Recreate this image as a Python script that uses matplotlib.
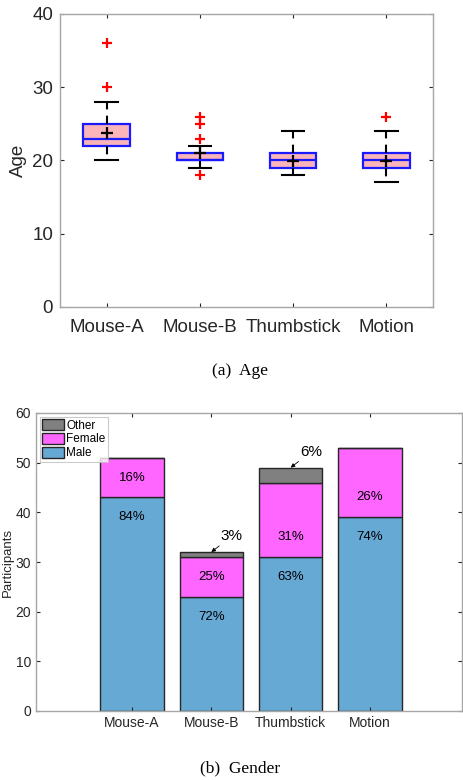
import matplotlib.pyplot as plt
import numpy as np

plt.rcParams['font.family'] = ['Liberation Sans', 'DejaVu Sans']

# Age distribution per input device (box plot summary)
devices = ['Mouse-A', 'Mouse-B', 'Thumbstick', 'Motion']
age_q1 = [22, 20, 19, 19]
age_med = [23, 20, 20, 20]
age_q3 = [25, 21, 21, 21]
age_whislo = [20, 19, 18, 17]
age_whishi = [28, 22, 24, 24]
age_mean = [23.7, 21.0, 19.9, 19.9]
age_fliers = [[30, 36], [18, 23, 25, 26], [], [26]]

# Gender counts per device
male = [43, 23, 31, 39]
female = [8, 8, 15, 14]
other = [0, 1, 3, 0]

TEXT = '#262626'
SPINE = '#a6a6a6'

fig = plt.figure(figsize=(4.63, 7.8), dpi=100)


def style_axes(ax):
    for s in ax.spines.values():
        s.set_color(SPINE)
        s.set_linewidth(1.0)
    ax.tick_params(direction='in', length=3, width=0.8, color=TEXT,
                   labelcolor=TEXT, top=True, right=True)


## Age box plot ##
ax1 = fig.add_axes([60 / 463, 1 - 307 / 780, 373 / 463, 293 / 780])
stats = []
for i in range(len(devices)):
    stats.append({'med': age_med[i], 'q1': age_q1[i], 'q3': age_q3[i],
                  'whislo': age_whislo[i], 'whishi': age_whishi[i],
                  'mean': age_mean[i], 'fliers': age_fliers[i]})
ax1.bxp(stats, positions=np.arange(1, 5), widths=0.5, patch_artist=True,
        showmeans=True,
        boxprops=dict(facecolor='#fbb4b9', edgecolor='#1a1aff', linewidth=1.6),
        medianprops=dict(color='#1a1aff', linewidth=1.6),
        whiskerprops=dict(color='black', linewidth=1.5, linestyle=(0, (4, 3))),
        capprops=dict(color='black', linewidth=1.5),
        capwidths=0.24,
        meanprops=dict(marker='+', markeredgecolor='black', markersize=8,
                       markeredgewidth=1.6),
        flierprops=dict(marker='+', markeredgecolor='red', markersize=7,
                        markeredgewidth=1.6))
ax1.set_xlim(0.5, 4.5)
ax1.set_ylim(0, 40)
ax1.set_yticks([0, 10, 20, 30, 40])
ax1.set_xticks(np.arange(1, 5))
ax1.set_xticklabels(devices)
ax1.tick_params(labelsize=13.5)
ax1.tick_params(axis='x', pad=9)
ax1.tick_params(axis='y', pad=5)
ax1.set_ylabel('Age', fontsize=13.5, color=TEXT, labelpad=4)
style_axes(ax1)

fig.text(240 / 463, 1 - 371 / 780, '(a)  Age', ha='center', va='center',
         fontsize=12.5, family='Liberation Serif')

## Gender stacked bars ##
ax2 = fig.add_axes([36 / 463, 1 - 711 / 780, 426 / 463, 298 / 780])
x = np.arange(1, 5)
male = np.array(male)
female = np.array(female)
other = np.array(other)
totals = male + female + other
edge = dict(edgecolor='#262626', linewidth=1.0)
b_male = ax2.bar(x, male, 0.8, color='#67a9d5', label='Male', **edge)
b_female = ax2.bar(x, female, 0.8, bottom=male, color='#ff66ff', label='Female', **edge)
b_other = ax2.bar(x, other, 0.8, bottom=male + female, color='#808080', label='Other', **edge)

for i in range(len(x)):
    ax2.text(x[i], male[i] - 4, '{:.0f}%'.format(100 * male[i] / totals[i]),
             ha='center', va='center', fontsize=9.5, color='black')
    ax2.text(x[i], male[i] + 4, '{:.0f}%'.format(100 * female[i] / totals[i]),
             ha='center', va='center', fontsize=9.5, color='black')
    if other[i] > 0:
        ax2.annotate('{:.0f}%'.format(100 * other[i] / totals[i]),
                     xy=(x[i], totals[i]), xytext=(x[i] + 0.12, totals[i] + 3.2),
                     ha='left', va='center', fontsize=11,
                     arrowprops=dict(arrowstyle='-|>', color='black',
                                     lw=0.6, mutation_scale=6,
                                     shrinkA=0, shrinkB=0))

ax2.set_xlim(-0.21, 5.16)
ax2.set_ylim(0, 60)
ax2.set_xticks(x)
ax2.set_xticklabels(devices)
ax2.set_yticks(np.arange(0, 61, 10))
ax2.tick_params(labelsize=10)
ax2.set_ylabel('Participants', fontsize=9.5, color=TEXT, labelpad=1)
style_axes(ax2)

leg = ax2.legend(handles=[b_other, b_female, b_male], loc='upper left',
                 fontsize=8.5, frameon=True, fancybox=False,
                 handlelength=1.9, handleheight=1.1, handletextpad=0.15,
                 borderpad=0.2, labelspacing=0.1, borderaxespad=0.3)
leg.get_frame().set_edgecolor('#bfbfbf')
leg.get_frame().set_linewidth(0.8)

fig.text(240 / 463, 1 - 768 / 780, '(b)  Gender', ha='center', va='center',
         fontsize=12.5, family='Liberation Serif')

fig.savefig('out.png', dpi=100)
